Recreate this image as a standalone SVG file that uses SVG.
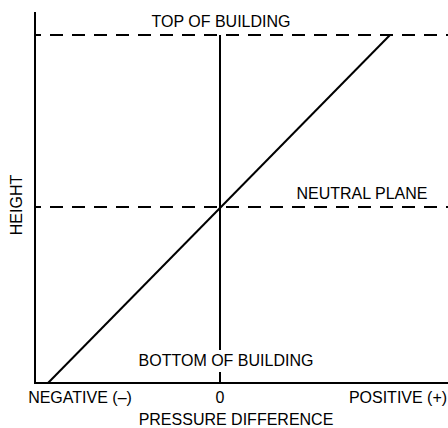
<svg xmlns="http://www.w3.org/2000/svg" width="448" height="428" viewBox="0 0 448 428">
<style>
.ax{stroke:#000;stroke-width:2;fill:none}
.dash{stroke:#000;stroke-width:2;fill:none;stroke-dasharray:13 9;stroke-dashoffset:7}
text{font-family:"Liberation Sans",Arial,sans-serif;font-size:16px;fill:#000}
</style>
<rect width="448" height="428" fill="#fff"/>
<g id="connectors">
<line class="ax" x1="35" y1="12" x2="35" y2="384"/>
<line class="ax" x1="34" y1="383" x2="448" y2="383"/>
<line class="dash" x1="35" y1="35" x2="448" y2="35"/>
<line class="dash" x1="35" y1="207" x2="448" y2="207"/>
<line class="ax" x1="220" y1="35" x2="220" y2="350"/>
<line class="ax" x1="220" y1="372" x2="220" y2="383"/>
<line class="ax" x1="48" y1="383" x2="390" y2="35"/>
</g>
<g id="top-label"><text x="221" y="27" text-anchor="middle">TOP OF BUILDING</text></g>
<g id="neutral-label"><text x="362" y="199" text-anchor="middle">NEUTRAL PLANE</text></g>
<g id="bottom-label"><text x="226" y="366" text-anchor="middle">BOTTOM OF BUILDING</text></g>
<g id="neg-label"><text x="80" y="403" text-anchor="middle">NEGATIVE (–)</text></g>
<g id="zero-label"><text x="220" y="403" text-anchor="middle">0</text></g>
<g id="pos-label"><text x="398" y="403" text-anchor="middle">POSITIVE (+)</text></g>
<g id="x-title"><text x="236" y="425" text-anchor="middle">PRESSURE DIFFERENCE</text></g>
<g id="y-title"><text transform="translate(22,205) rotate(-90)" text-anchor="middle">HEIGHT</text></g>
</svg>
